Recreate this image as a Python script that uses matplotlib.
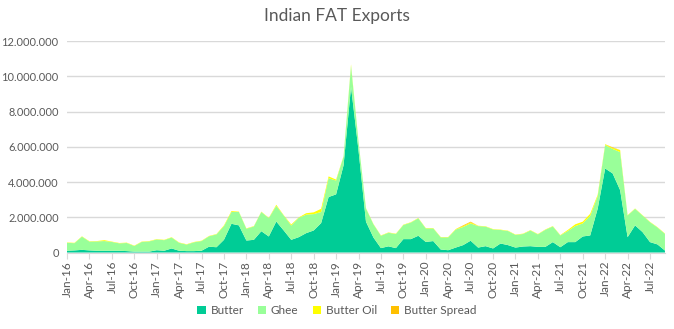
"""
Indian FAT Exports: stacked monthly area chart (Butter, Ghee, Butter Oil, Butter Spread).
Values in thousands, read off the reference picture.
"""
import numpy as np
import pandas as pd
import matplotlib
matplotlib.use("Agg")
import matplotlib.pyplot as plt
from matplotlib.patches import Patch
from matplotlib.ticker import FuncFormatter

# monthly, Jan-16 .. Sep-22
months = pd.date_range("2016-01-01", "2022-09-01", freq="MS")

butter = [
    100, 120, 150, 120, 100, 100, 100, 100, 80, 50, 50, 50,
    130, 100, 230, 100, 80, 80, 100, 330, 300, 720, 1630, 1540,
    680, 720, 1210, 910, 1760, 1250, 720, 870, 1100, 1250, 1670, 3150,
    3300, 4950, 9400, 5800, 1750, 850, 250, 350, 250, 760, 760, 950,
    600, 650, 170, 130, 280, 420, 670, 280, 360, 230, 510, 420,
    280, 340, 360, 320, 320, 590, 300, 590, 590, 910, 970, 2490,
    4770, 4490, 3540, 870, 1540, 1160, 590, 460, 110,
]
ghee = [
    450, 410, 750, 500, 530, 550, 500, 420, 460, 320, 550, 580,
    610, 600, 620, 450, 370, 500, 550, 590, 730, 780, 670, 760,
    670, 760, 1090, 1040, 890, 850, 810, 1100, 1050, 930, 630, 1070,
    780, 500, 1200, 500, 750, 750, 700, 770, 800, 800, 940, 990,
    770, 720, 690, 730, 1020, 1030, 980, 1220, 1110, 1080, 770, 800,
    720, 710, 890, 710, 970, 890, 670, 630, 910, 740, 1110, 710,
    1330, 1390, 2160, 1230, 940, 940, 1130, 960, 950,
]
butter_oil = [
    20, 20, 20, 20, 20, 50, 20, 20, 20, 20, 20, 20,
    20, 20, 20, 20, 20, 20, 20, 20, 20, 40, 50, 20,
    20, 20, 20, 20, 60, 20, 60, 20, 80, 100, 180, 100,
    60, 20, 80, 20, 20, 20, 20, 20, 20, 20, 20, 20,
    20, 20, 20, 20, 30, 50, 60, 20, 20, 20, 20, 20,
    20, 20, 20, 20, 20, 20, 20, 60, 100, 100, 120, 80,
    50, 60, 120, 20, 20, 20, 20, 20, 20,
]
butter_spread = [0] * 81
butter_spread[53] = 40
butter_spread[54] = 40
butter_spread[73] = 30

series_names = ["Butter", "Ghee", "Butter Oil", "Butter Spread"]
colors = ["#00CC96", "#99FF99", "#FFFF00", "#FFC000"]
FONT = ["Lato", "DejaVu Sans"]

x = np.arange(len(months))
stack = np.array([butter, ghee, butter_oil, butter_spread], dtype=float) * 1000

fig = plt.figure(figsize=(6.74, 3.29), dpi=100)
ax = fig.add_axes([0.0994, 0.2325, 0.8872, 0.6425])

ax.stackplot(x, stack, colors=colors, linewidth=0, zorder=2)

ax.set_xlim(0, len(months) - 1)
ax.set_ylim(0, 12_000_000)
ax.set_yticks(np.arange(0, 12_000_001, 2_000_000))
ax.yaxis.set_major_formatter(FuncFormatter(lambda v, _: f"{int(v):,}".replace(",", ".")))
ax.grid(axis="y", color="#D9D9D9", linewidth=1, zorder=0)
ax.set_axisbelow(True)

ticks = x[::3]
ax.set_xticks(ticks)
ax.set_xticklabels([m.strftime("%b-%y") for m in months[::3]], rotation=90)

for side in ["top", "right", "left"]:
    ax.spines[side].set_visible(False)
ax.spines["bottom"].set_color("#D9D9D9")
ax.tick_params(axis="y", length=0, labelsize=7.9, labelcolor="#595959", pad=6)
ax.tick_params(axis="x", length=4, color="#D9D9D9", labelsize=8.5, labelcolor="#595959", pad=2)

fig.suptitle("Indian FAT Exports", x=0.5, y=0.975, fontsize=12.5, color="#595959",
             fontfamily=FONT)

handles = [Patch(facecolor=c, edgecolor="none", label=n) for c, n in zip(colors, series_names)]
leg = fig.legend(handles=handles, loc="center", bbox_to_anchor=(0.5, 0.055), ncol=4, frameon=False,
                 fontsize=8.5, labelcolor="#595959", handlelength=0.7, handleheight=0.7,
                 handletextpad=0.4, columnspacing=1.2)

for t in ax.get_xticklabels() + ax.get_yticklabels() + leg.get_texts():
    t.set_fontfamily(FONT)

fig.savefig("out.png", dpi=100)
